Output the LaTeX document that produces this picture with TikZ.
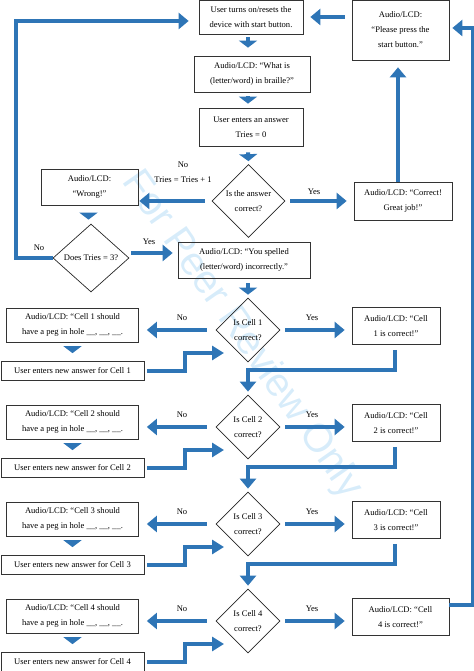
\documentclass[tikz,border=0pt]{standalone}
\usepackage{fontspec}
\setmainfont{Liberation Serif}
\newfontfamily\markfont{Liberation Sans}
\usetikzlibrary{arrows.meta,shapes.geometric}
\definecolor{flowblue}{RGB}{46,117,182}
\definecolor{markblue}{RGB}{215,236,250}
\tikzset{
  box/.style={draw=black!80,line width=0.7bp,rectangle,align=center,inner sep=1bp,
    font=\fontsize{8.6}{15}\selectfont},
  test/.style={draw=black!85,line width=0.7bp,diamond,aspect=1,align=center,inner sep=0bp,
    font=\fontsize{8.6}{15}\selectfont},
  flow/.style={draw=flowblue,line width=4bp,-{Triangle[length=10bp,width=16bp]}},
  drop/.style={draw=flowblue,line width=4bp,-{Triangle[length=7bp,width=18bp]}},
  stair/.style={draw=flowblue,line width=4.5bp,-{Triangle[length=12bp,width=14bp]}},
  tag/.style={inner sep=0bp,align=center,font=\fontsize{8.6}{15}\selectfont},
}
\begin{document}
\begin{tikzpicture}[line join=miter]
\useasboundingbox (0bp,0bp) rectangle (474bp,671bp);
%% watermark
\node (node_mark) at (242bp,336bp) [rotate=-55,text=markblue,font=\markfont\fontsize{40}{40}\selectfont] {For Peer Review Only};
%% start loop
\node (node_start) at (251bp,654bp) [box,minimum width=104bp,minimum height=34bp] {User turns on/resets the\\device with start button.};
  \node (node_press) at (400.5bp,641bp) [box,minimum width=97bp,minimum height=60bp] {Audio/LCD:\\“Please press the\\start button.”};
  \node (node_ask) at (252bp,597bp) [box,minimum width=116bp,minimum height=36bp] {Audio/LCD: “What is\\(letter/word) in braille?”};
  \node (node_enter) at (251bp,544bp) [box,minimum width=104bp,minimum height=38bp] {User enters an answer\\Tries = 0};
  \node (node_answer) at (248.5bp,470bp) [test,minimum width=73bp,minimum height=73bp] {Is the answer\\correct?};
  \node (node_wrong) at (89.5bp,484bp) [box,minimum width=97bp,minimum height=36bp] {Audio/LCD:\\“Wrong!”};
  \node (node_great) at (403bp,470bp) [box,minimum width=98bp,minimum height=38bp] {Audio/LCD: “Correct!\\Great job!”};
  \node (node_tries) at (91bp,413bp) [test,minimum width=76bp,minimum height=68bp] {Does Tries = 3?};
  \node (node_spelled) at (244bp,411bp) [box,minimum width=132bp,minimum height=36bp] {Audio/LCD: “You spelled\\(letter/word) incorrectly.”};
  \coordinate (loop_left) at (16bp,413bp);
  \coordinate (loop_right) at (473bp,66bp);
%
  \draw [flow,shorten <=7bp,shorten >=7bp] (node_press.west |- node_start.east) -- (node_start.east);
  \draw [drop,shorten <=3bp,shorten >=8bp] ([xshift=-3bp]node_start.south) -- ([xshift=-3bp]node_start.south |- node_ask.north);
  \draw [drop,shorten <=4bp,shorten >=4bp] ([xshift=-3bp]node_start.south |- node_ask.south) -- ([xshift=-3bp]node_start.south |- node_enter.north);
  \draw [drop,shorten <=6bp,shorten >=3bp] ([xshift=-3bp]node_enter.south) -- (node_answer.north);
  \draw [flow,shorten <=7bp,shorten >=1bp] (node_answer.west) -- (node_answer.west -| node_wrong.east);
  \draw [flow,shorten <=5bp,shorten >=7bp] (node_answer.east) -- (node_answer.east -| node_great.west);
  \draw [flow,shorten >=7bp] ([xshift=-5bp]node_great.north) -- ([xshift=-5bp]node_great.north |- node_press.south);
  \draw [drop,shorten <=8bp,shorten >=4bp] ([xshift=-1bp]node_wrong.south) -- ([xshift=-1bp]node_wrong.south |- node_tries.north);
  \draw [flow,shorten <=2bp,shorten >=5bp] ([yshift=5bp]node_tries.east) -- ([yshift=5bp]node_tries.east -| node_spelled.west);
  \draw [flow,shorten >=10bp] (node_tries.west) -- (loop_left) |- ([yshift=-4bp]node_start.west);
  \node (node_no_a) at (183bp,498.5bp) [tag] {No\\Tries = Tries + 1};
  \node (node_yes_a) at (314bp,479bp) [tag] {Yes};
  \node (node_yes_b) at (149bp,429bp) [tag] {Yes};
  \node (node_no_b) at (39bp,423bp) [tag] {No};
%% cell 1
\node (node_cell1) at (248bp,341bp) [test,minimum width=64bp,minimum height=64bp] {Is Cell 1\\correct?};
  \node (node_hint1) at (72.5bp,346bp) [box,minimum width=132bp,minimum height=34bp] {Audio/LCD: “Cell 1 should\\have a peg in hole \_\_, \_\_, \_\_.};
  \node (node_new1) at (72.5bp,300bp) [box,minimum width=143bp,minimum height=19bp] {User enters new answer for Cell 1};
  \node (node_ok1) at (396bp,345bp) [box,minimum width=88bp,minimum height=37bp] {Audio/LCD: “Cell\\1 is correct!”};
  \node (node_no1) at (182bp,353bp) [tag] {No};
  \node (node_yes1) at (312bp,353bp) [tag] {Yes};
  \draw [drop,shorten <=5bp,shorten >=3bp] ([xshift=4bp]node_spelled.south) -- (node_cell1.north);
  \draw [flow,shorten <=9bp,shorten >=8bp] (node_cell1.west) -- (node_cell1.west -| node_hint1.east);
  \draw [flow,shorten <=5bp,shorten >=7bp] (node_cell1.east) -- (node_cell1.east -| node_ok1.west);
  \draw [drop,shorten <=4bp,shorten >=8bp] (node_hint1.south) -- (node_hint1.south |- node_new1.north);
  \draw [stair,shorten <=3bp] (node_new1.east) -| ([xshift=-63bp,yshift=-23bp]node_cell1.center) -- ([xshift=-24bp,yshift=-23bp]node_cell1.center);
%% cell 2
\node (node_cell2) at (248bp,244bp) [test,minimum width=64bp,minimum height=64bp] {Is Cell 2\\correct?};
  \node (node_hint2) at (72.5bp,249bp) [box,minimum width=132bp,minimum height=34bp] {Audio/LCD: “Cell 2 should\\have a peg in hole \_\_, \_\_, \_\_.};
  \node (node_new2) at (72.5bp,203bp) [box,minimum width=143bp,minimum height=19bp] {User enters new answer for Cell 2};
  \node (node_ok2) at (396bp,248bp) [box,minimum width=88bp,minimum height=37bp] {Audio/LCD: “Cell\\2 is correct!”};
  \node (node_no2) at (182bp,256bp) [tag] {No};
  \node (node_yes2) at (312bp,256bp) [tag] {Yes};
  \draw [flow,shorten <=5bp,shorten >=3bp] ([xshift=-1bp]node_ok1.south) |- ([yshift=-40bp]node_cell1.center) -- (node_cell2.north);
  \draw [flow,shorten <=9bp,shorten >=8bp] (node_cell2.west) -- (node_cell2.west -| node_hint2.east);
  \draw [flow,shorten <=5bp,shorten >=7bp] (node_cell2.east) -- (node_cell2.east -| node_ok2.west);
  \draw [drop,shorten <=4bp,shorten >=8bp] (node_hint2.south) -- (node_hint2.south |- node_new2.north);
  \draw [stair,shorten <=3bp] (node_new2.east) -| ([xshift=-63bp,yshift=-23bp]node_cell2.center) -- ([xshift=-24bp,yshift=-23bp]node_cell2.center);
%% cell 3
\node (node_cell3) at (248bp,147bp) [test,minimum width=64bp,minimum height=64bp] {Is Cell 3\\correct?};
  \node (node_hint3) at (72.5bp,152bp) [box,minimum width=132bp,minimum height=34bp] {Audio/LCD: “Cell 3 should\\have a peg in hole \_\_, \_\_, \_\_.};
  \node (node_new3) at (72.5bp,106bp) [box,minimum width=143bp,minimum height=19bp] {User enters new answer for Cell 3};
  \node (node_ok3) at (396bp,151bp) [box,minimum width=88bp,minimum height=37bp] {Audio/LCD: “Cell\\3 is correct!”};
  \node (node_no3) at (182bp,159bp) [tag] {No};
  \node (node_yes3) at (312bp,159bp) [tag] {Yes};
  \draw [flow,shorten <=5bp,shorten >=3bp] ([xshift=-1bp]node_ok2.south) |- ([yshift=-40bp]node_cell2.center) -- (node_cell3.north);
  \draw [flow,shorten <=9bp,shorten >=8bp] (node_cell3.west) -- (node_cell3.west -| node_hint3.east);
  \draw [flow,shorten <=5bp,shorten >=7bp] (node_cell3.east) -- (node_cell3.east -| node_ok3.west);
  \draw [drop,shorten <=4bp,shorten >=8bp] (node_hint3.south) -- (node_hint3.south |- node_new3.north);
  \draw [stair,shorten <=3bp] (node_new3.east) -| ([xshift=-63bp,yshift=-23bp]node_cell3.center) -- ([xshift=-24bp,yshift=-23bp]node_cell3.center);
%% cell 4
\node (node_cell4) at (248bp,50bp) [test,minimum width=64bp,minimum height=64bp] {Is Cell 4\\correct?};
  \node (node_hint4) at (72.5bp,55bp) [box,minimum width=132bp,minimum height=34bp] {Audio/LCD: “Cell 4 should\\have a peg in hole \_\_, \_\_, \_\_.};
  \node (node_new4) at (72.5bp,9bp) [box,minimum width=143bp,minimum height=19bp] {User enters new answer for Cell 4};
  \node (node_ok4) at (400.5bp,54bp) [box,minimum width=97bp,minimum height=37bp] {Audio/LCD: “Cell\\4 is correct!”};
  \node (node_no4) at (182bp,62bp) [tag] {No};
  \node (node_yes4) at (312bp,62bp) [tag] {Yes};
  \draw [flow,shorten <=5bp,shorten >=3bp] ([xshift=-1bp]node_ok3.south) |- ([yshift=-40bp]node_cell3.center) -- (node_cell4.north);
  \draw [flow,shorten <=9bp,shorten >=8bp] (node_cell4.west) -- (node_cell4.west -| node_hint4.east);
  \draw [flow,shorten <=5bp,shorten >=7bp] (node_cell4.east) -- (node_cell4.east -| node_ok4.west);
  \draw [drop,shorten <=4bp,shorten >=8bp] (node_hint4.south) -- (node_hint4.south |- node_new4.north);
  \draw [stair,shorten <=3bp] (node_new4.east) -| ([xshift=-63bp,yshift=-23bp]node_cell4.center) -- ([xshift=-24bp,yshift=-23bp]node_cell4.center);
  \draw [flow,shorten >=3bp] ([yshift=12bp]node_ok4.east) -- (loop_right) |- ([yshift=2bp]node_press.east);
%
\end{tikzpicture}
\end{document}
